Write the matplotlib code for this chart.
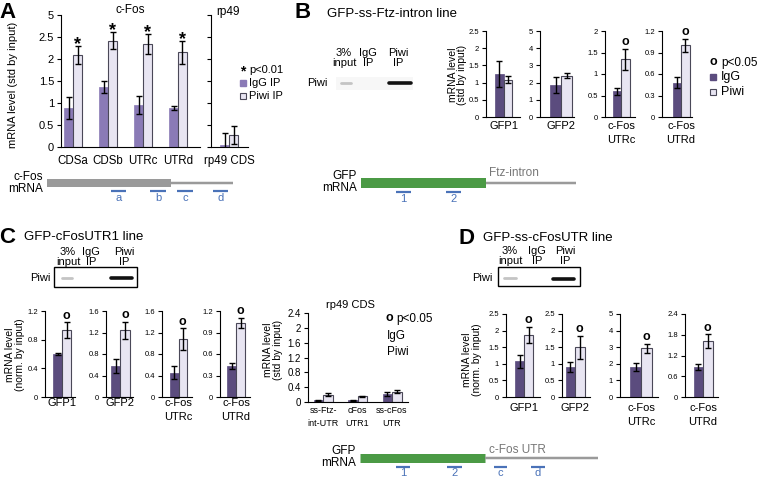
import numpy as np
import matplotlib.pyplot as plt

plt.rcParams['font.family'] = ['Liberation Sans', 'DejaVu Sans']

W, H = 759, 478
fig = plt.figure(figsize=(W / 100, H / 100), dpi=100)

# ---- data ----
# A: c-Fos RIP
a_cats = ['CDSa', 'CDSb', 'UTRc', 'UTRd']
a_igg = [0.88, 1.36, 0.95, 0.88]
a_igg_err = [0.25, 0.14, 0.2, 0.05]
a_piwi = [2.09, 2.42, 2.34, 2.15]
a_piwi_err = [0.2, 0.2, 0.22, 0.26]
a_ticklabels = ['0', '0.5', '1', '1.5', '2', '2.5', '5']
rp_a_cats = ['rp49 CDS']
rp_a_igg = [0.05]
rp_a_igg_err = [0.27]
rp_a_piwi = [0.27]
rp_a_piwi_err = [0.2]

# B: GFP-ss-Ftz-intron line
b_cats = ['GFP1', 'GFP2', 'c-Fos\nUTRc', 'c-Fos\nUTRd']
b_igg = [1.24, 1.85, 0.6, 0.48]
b_igg_err = [0.38, 0.45, 0.08, 0.08]
b_piwi = [1.09, 2.39, 1.34, 1.0]
b_piwi_err = [0.11, 0.14, 0.25, 0.09]
b_sig = [False, False, True, True]

# C: GFP-cFosUTR1 line
c_igg = [0.6, 0.57, 0.45, 0.43]
c_igg_err = [0.02, 0.13, 0.12, 0.045]
c_piwi = [0.93, 1.24, 1.08, 1.03]
c_piwi_err = [0.11, 0.16, 0.2, 0.07]
rp_cats = ['ss-Ftz-\nint-UTR', 'cFos\nUTR1', 'ss-cFos\nUTR']
rp_igg = [0.05, 0.05, 0.22]
rp_igg_err = [0.01, 0.01, 0.06]
rp_piwi = [0.2, 0.15, 0.28]
rp_piwi_err = [0.04, 0.01, 0.04]

# D: GFP-ss-cFosUTR line
d_igg = [1.07, 0.9, 1.8, 0.87]
d_igg_err = [0.2, 0.14, 0.22, 0.08]
d_piwi = [1.87, 1.5, 2.93, 1.62]
d_piwi_err = [0.24, 0.35, 0.26, 0.19]

DARK = '#5b4c7e'
MID = '#8a7ab6'
LIGHT = '#e8e5f2'
EDGE = '#4a4858'
BLUE = '#4a72b8'
GREEN = '#4b9a45'
GRAY = '#9a9a9a'


def ax_px(l, t, r, b):
    return fig.add_axes([l / W, 1 - b / H, (r - l) / W, (b - t) / H])


def txt(x, y, s, **kw):
    kw.setdefault('va', 'center')
    fig.text(x / W, 1 - y / H, s, **kw)


def bars(box, c0, sp, bw, cats, igg, igg_e, piwi, piwi_e, ytop, ystep,
         labels=None, sig=None, mark='o', igg_col=DARK, tfs=5.5, cfs=8,
         cpad=3, mfs=9, moff=0.5, mva='bottom'):
    l, t, r, b = box
    ax = ax_px(l, t, r, b)
    x = np.arange(len(cats))
    w = bw / sp
    ekw = dict(ecolor='black', elinewidth=1, capsize=2.3, capthick=1)
    ax.bar(x - w / 2, igg, w, yerr=igg_e, color=igg_col, edgecolor=igg_col,
           linewidth=0.5, error_kw=ekw)
    ax.bar(x + w / 2, piwi, w, yerr=piwi_e, color=LIGHT, edgecolor=EDGE,
           linewidth=0.8, error_kw=ekw)
    ax.set_xlim((l - c0) / sp, (r - c0) / sp)
    ax.set_ylim(0, ytop)
    ticks = np.arange(0, ytop + ystep / 2, ystep)
    ax.set_yticks(ticks)
    if labels is None:
        labels = ['%g' % v for v in ticks]
    ax.set_yticklabels(labels)
    ax.set_xticks(x)
    ax.set_xticklabels(cats, linespacing=1.5)
    ax.tick_params(axis='x', length=0, pad=cpad, labelsize=cfs)
    ax.tick_params(axis='y', length=3, width=0.8, pad=2, labelsize=tfs)
    for s in ['top', 'right']:
        ax.spines[s].set_visible(False)
    for s in ['left', 'bottom']:
        ax.spines[s].set_linewidth(0.8)
    ax.patch.set_alpha(0)
    if sig is not None:
        for i, s in enumerate(sig):
            if s:
                ax.annotate(mark, (x[i] + w / 2, piwi[i] + piwi_e[i]),
                            xytext=(0, moff), textcoords='offset points',
                            ha='center', va=mva, fontsize=mfs,
                            fontweight='bold', annotation_clip=False)
    return ax


# ---- Panel A ----
bars((61, 15, 200, 147), 73, 35, 9, a_cats, a_igg, a_igg_err, a_piwi, a_piwi_err,
     3, 0.5, labels=a_ticklabels, sig=[True] * 4, mark='*', igg_col=MID,
     tfs=8, cfs=8.3, cpad=6, mfs=13, moff=1, mva='center')
axr = bars((211, 15, 248, 147), 229, 35, 9, rp_a_cats, rp_a_igg, rp_a_igg_err,
           rp_a_piwi, rp_a_piwi_err, 3, 0.5, igg_col=MID, tfs=8, cfs=8.3, cpad=6)
axr.set_yticklabels([])
txt(8, 12, 'A', fontsize=16, fontweight='bold', ha='center')
txt(130, 10, 'c-Fos', fontsize=8.5, ha='center')
txt(228, 12, 'rp49', fontsize=8.5, ha='center')
txt(13, 85, 'mRNA level (std by input)', fontsize=8, rotation=90, ha='center')
txt(243, 71, '*', fontsize=10, fontweight='bold', ha='center')
txt(249, 70, 'p<0.01', fontsize=8, ha='left')
txt(249, 83, 'IgG IP', fontsize=8, ha='left')
txt(249, 96, 'Piwi IP', fontsize=8, ha='left')

# ---- Panel B ----
tb, bb = 31, 117
bars((486, tb, 520, bb), 503.5, 40, 8.5, b_cats[:1], b_igg[:1], b_igg_err[:1],
     b_piwi[:1], b_piwi_err[:1], 2.5, 0.5, sig=b_sig[:1])
bars((540, tb, 574, bb), 561, 40, 11, b_cats[1:2], b_igg[1:2], b_igg_err[1:2],
     b_piwi[1:2], b_piwi_err[1:2], 5, 1, sig=b_sig[1:2])
bars((605, tb, 635, bb), 621, 40, 8.5, b_cats[2:3], b_igg[2:3], b_igg_err[2:3],
     b_piwi[2:3], b_piwi_err[2:3], 2, 0.5, sig=b_sig[2:3])
bars((662, tb, 692, bb), 681, 40, 8.5, b_cats[3:], b_igg[3:], b_igg_err[3:],
     b_piwi[3:], b_piwi_err[3:], 1.2, 0.3, sig=b_sig[3:])
txt(303, 13, 'B', fontsize=16, fontweight='bold', ha='center')
txt(327, 14, 'GFP-ss-Ftz-intron line', fontsize=9.5, ha='left')
txt(453, 75, 'mRNA level', fontsize=7.5, rotation=90, ha='center')
txt(462, 75, '(std by input)', fontsize=7.5, rotation=90, ha='center')
txt(713, 62, 'o', fontsize=9, fontweight='bold', ha='center')
txt(721, 63, 'p<0.05', fontsize=8.5, ha='left')
txt(721, 77, 'IgG', fontsize=9, ha='left')
txt(721, 92, 'Piwi', fontsize=9, ha='left')

# ---- Panel C ----
tc, bc = 311, 397
bars((45, tc, 75, bc), 62, 40, 9, b_cats[:1], c_igg[:1], c_igg_err[:1],
     c_piwi[:1], c_piwi_err[:1], 1.2, 0.4, sig=[True], cpad=1)
bars((106, tc, 133, bc), 120.5, 40, 9.5, b_cats[1:2], c_igg[1:2], c_igg_err[1:2],
     c_piwi[1:2], c_piwi_err[1:2], 1.6, 0.4, sig=[True], cpad=1)
bars((162, tc, 192, bc), 178.5, 40, 8.5, b_cats[2:3], c_igg[2:3], c_igg_err[2:3],
     c_piwi[2:3], c_piwi_err[2:3], 1.6, 0.4, sig=[True], cpad=1)
bars((220, tc, 250, bc), 236, 40, 9, b_cats[3:], c_igg[3:], c_igg_err[3:],
     c_piwi[3:], c_piwi_err[3:], 1.2, 0.3, sig=[True], cpad=1)
bars((308, 313, 408, 402), 323, 34.5, 9.5, rp_cats, rp_igg, rp_igg_err,
     rp_piwi, rp_piwi_err, 2.4, 0.4, tfs=7, cfs=6.5, cpad=3)
txt(7, 237, 'C', fontsize=16, fontweight='bold', ha='center')
txt(24, 237, 'GFP-cFosUTR1 line', fontsize=9.5, ha='left')
txt(10, 355, 'mRNA level', fontsize=7.5, rotation=90, ha='center')
txt(20, 355, '(norm. by input)', fontsize=7.5, rotation=90, ha='center')
txt(350, 305, 'rp49 CDS', fontsize=8, ha='center')
txt(268, 350, 'mRNA level', fontsize=7.5, rotation=90, ha='center')
txt(278, 350, '(std by input)', fontsize=7.5, rotation=90, ha='center')
txt(389, 318, 'o', fontsize=9, fontweight='bold', ha='center')
txt(396, 319, 'p<0.05', fontsize=8.5, ha='left')
txt(387, 336, 'IgG', fontsize=8.5, ha='left')
txt(387, 352, 'Piwi', fontsize=8.5, ha='left')

# ---- Panel D ----
td, bd = 314, 397
bars((506, td, 540, bd), 524, 40, 9, b_cats[:1], d_igg[:1], d_igg_err[:1],
     d_piwi[:1], d_piwi_err[:1], 2.5, 0.5, sig=[True], cpad=4)
bars((562, td, 590, bd), 575, 40, 9.5, b_cats[1:2], d_igg[1:2], d_igg_err[1:2],
     d_piwi[1:2], d_piwi_err[1:2], 2.5, 0.5, sig=[True], cpad=4)
bars((620, td, 658, bd), 641, 40, 11, b_cats[2:3], d_igg[2:3], d_igg_err[2:3],
     d_piwi[2:3], d_piwi_err[2:3], 5, 1, sig=[True], cpad=4)
bars((685, td, 718, bd), 703, 40, 9.5, b_cats[3:], d_igg[3:], d_igg_err[3:],
     d_piwi[3:], d_piwi_err[3:], 2.4, 0.6, sig=[True], cpad=4)
txt(466, 238, 'D', fontsize=16, fontweight='bold', ha='center')
txt(483, 238, 'GFP-ss-cFosUTR line', fontsize=9.5, ha='left')
txt(467, 360, 'mRNA level', fontsize=7.5, rotation=90, ha='center')
txt(477, 360, '(norm. by input)', fontsize=7.5, rotation=90, ha='center')

# ---- blots and mRNA schematics ----
ov = fig.add_axes([0, 0, 1, 1])
ov.set_xlim(0, W)
ov.set_ylim(H, 0)
ov.axis('off')


def seg(x0, x1, y, h, color):
    ov.plot([x0, x1], [y, y], color=color, lw=h * 0.72, solid_capstyle='butt')


def blot(hx, hy, lx, ly, box, faint, strong, frame=True):
    for x, lab in zip(hx, ['3%\ninput', 'IgG\nIP', 'Piwi\nIP']):
        txt(x, hy, lab, fontsize=8, ha='center', linespacing=1.0)
    txt(lx, ly, 'Piwi', fontsize=8, ha='center')
    x0, y0, x1, y1 = box
    ov.add_patch(plt.Rectangle((x0, y0), x1 - x0, y1 - y0,
                               facecolor='#f7f7f7' if not frame else 'white',
                               edgecolor='black' if frame else 'none', lw=1))
    ov.plot(faint[:2], [faint[2]] * 2, color='#c4c4c4', lw=2,
            solid_capstyle='round')
    ov.plot(strong[:2], [strong[2]] * 2, color='#111111', lw=2.6,
            solid_capstyle='round')


blot([344, 368, 398], 58, 317, 83, (336, 77, 413, 90), (341, 351, 83),
     (389, 411, 83), frame=False)
blot([68, 91, 124], 257, 40, 278, (54, 267, 137, 287), (62, 72, 278),
     (111, 132, 278))
blot([510, 537, 565], 256, 482, 278, (498, 267, 580, 286), (504, 516, 278),
     (553, 574, 279))

# c-Fos mRNA (A)
txt(43, 183, 'c-Fos\nmRNA', fontsize=8.5, ha='right', linespacing=0.95)
seg(47, 171, 183, 8, GRAY)
seg(171, 233, 183, 2.5, GRAY)
for x0, x1, lab in [(111, 126, 'a'), (150, 166, 'b'), (177, 193, 'c'), (213, 228, 'd')]:
    seg(x0, x1, 191, 2.2, BLUE)
    txt((x0 + x1) / 2, 198, lab, fontsize=8, color=BLUE, ha='center')

# GFP mRNA (B)
txt(357, 182, 'GFP\nmRNA', fontsize=8.5, ha='right', linespacing=0.95)
seg(361, 486, 183, 10, GREEN)
seg(486, 576, 183, 2.5, GRAY)
txt(489, 173, 'Ftz-intron', fontsize=8.5, color='#777777', ha='left')
for x0, x1, lab in [(396, 411, '1'), (446, 461, '2')]:
    seg(x0, x1, 192, 2.2, BLUE)
    txt((x0 + x1) / 2, 199, lab, fontsize=8, color=BLUE, ha='center')

# GFP mRNA (C/D)
txt(356, 457, 'GFP\nmRNA', fontsize=8.5, ha='right', linespacing=0.95)
seg(360, 485, 458, 9, GREEN)
seg(485, 598, 458, 2.5, GRAY)
txt(489, 450, 'c-Fos UTR', fontsize=8.5, color='#777777', ha='left')
for x0, x1, lab in [(396, 410, '1'), (447, 462, '2'), (494, 507, 'c'), (531, 545, 'd')]:
    seg(x0, x1, 467, 2.2, BLUE)
    txt((x0 + x1) / 2, 473, lab, fontsize=8, color=BLUE, ha='center')

# legend squares
ov.add_patch(plt.Rectangle((240, 80), 6, 6, facecolor=MID, edgecolor=MID))
ov.add_patch(plt.Rectangle((240, 93), 6, 6, facecolor=LIGHT, edgecolor=EDGE, lw=0.8))
ov.add_patch(plt.Rectangle((710, 74), 6, 6, facecolor=DARK, edgecolor=DARK))
ov.add_patch(plt.Rectangle((710, 89), 6, 6, facecolor=LIGHT, edgecolor=EDGE, lw=0.8))

fig.savefig('out.png', dpi=100)
